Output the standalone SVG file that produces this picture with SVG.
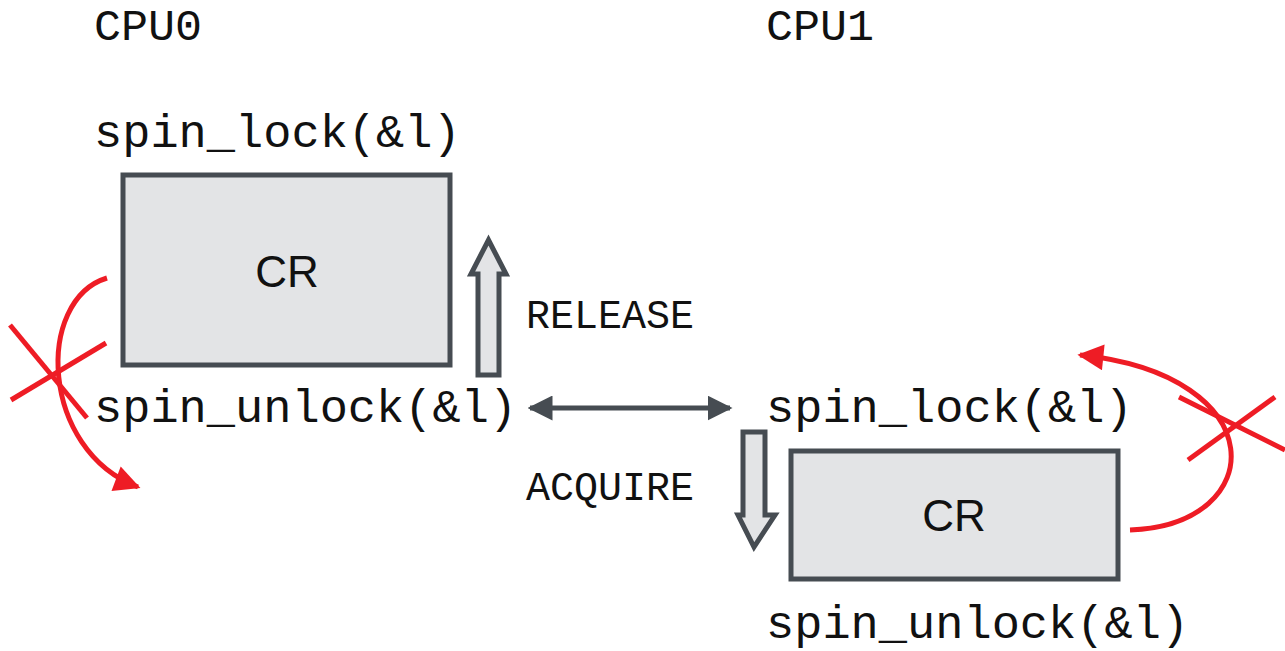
<svg xmlns="http://www.w3.org/2000/svg" width="1285" height="651" viewBox="0 0 1285 651">
<style>
.mono{font-family:"Liberation Mono","Courier New",monospace;fill:#111}
.big{font-size:47px}
.mid{font-size:40px}
.cpu{font-size:45px}
.box{fill:#e3e4e6;stroke:#464c52;stroke-width:5}
.cr{font-family:"Liberation Sans",Arial,sans-serif;font-size:44px;fill:#111;text-anchor:middle}
.blk{fill:#e3e4e6;stroke:#464c52;stroke-width:5;stroke-linejoin:miter}
.red{fill:none;stroke:#ee1c25;stroke-width:5}
.conn{stroke:#464c52;stroke-width:5;fill:none}
</style>
<defs>
<marker id="ah" viewBox="0 0 10 10" refX="9" refY="5" markerWidth="5" markerHeight="5" orient="auto-start-reverse" markerUnits="strokeWidth"><path d="M0,0 L10,5 L0,10 z" fill="#464c52"/></marker>
<marker id="rh" viewBox="0 0 10 10" refX="9" refY="5" markerWidth="7" markerHeight="5.2" orient="auto" markerUnits="strokeWidth"><path d="M0,0 L10,5 L0,10 z" fill="#ee1c25"/></marker>
</defs>
<g id="labels">
<text class="mono cpu" x="94" y="40">CPU0</text>
<text class="mono cpu" x="766" y="40">CPU1</text>
<text class="mono mid" x="526" y="328">RELEASE</text>
<text class="mono mid" x="526" y="500">ACQUIRE</text>
</g>
<g id="cpu0">
<text class="mono big" x="94" y="147">spin_lock(&amp;l)</text>
<rect class="box" x="123" y="175" width="327" height="190"/>
<text class="cr" x="287" y="287">CR</text>
<text class="mono big" x="94" y="422">spin_unlock(&amp;l)</text>
</g>
<g id="cpu1">
<text class="mono big" x="766" y="422">spin_lock(&amp;l)</text>
<rect class="box" x="791" y="451" width="327" height="128"/>
<text class="cr" x="954" y="531">CR</text>
<text class="mono big" x="766" y="638">spin_unlock(&amp;l)</text>
</g>
<g id="connectors">
<path class="blk" d="M478,375 L478,274 L471,274 L488.5,240 L506,274 L499,274 L499,375 Z"/>
<path class="blk" d="M743,432 L765,432 L765,515 L775,515 L754,547 L738,515 L743,515 Z"/>
<line class="conn" x1="530" y1="408" x2="730" y2="408" marker-start="url(#ah)" marker-end="url(#ah)"/>
<path class="red" d="M107,278 C35,300 40,450 138,487" marker-end="url(#rh)"/>
<line class="red" x1="10" y1="325" x2="87" y2="418"/>
<line class="red" x1="11" y1="400" x2="106" y2="343"/>
<path class="red" d="M1130,530 C1270,525 1275,375 1080,355" marker-end="url(#rh)"/>
<line class="red" x1="1179" y1="397" x2="1285" y2="450"/>
<line class="red" x1="1188" y1="460" x2="1275" y2="397"/>
</g>
</svg>
